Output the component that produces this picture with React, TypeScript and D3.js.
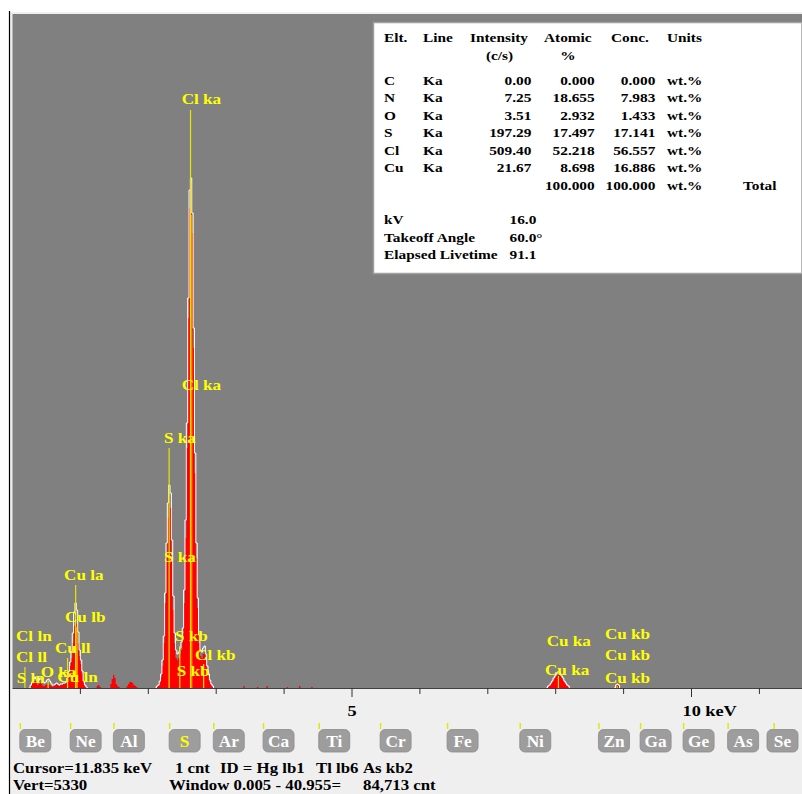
import React from 'react';
import * as d3 from 'd3';

// [keV, counts, reference-outline counts]
const spectrum: [number, number, number][] = [
  [0.0, 0, 0], [0.24, 0, 0], [0.26, 20, 30], [0.28, 40, 60], [0.3, 60, 90], [0.32, 70, 110], [0.34, 50, 90],
  [0.36, 30, 70], [0.38, 40, 80], [0.4, 60, 100], [0.42, 40, 80], [0.44, 20, 60], [0.46, 20, 50], [0.48, 30, 60],
  [0.5, 40, 80], [0.52, 50, 90], [0.54, 30, 70], [0.56, 20, 50], [0.58, 10, 30], [0.6, 20, 30], [0.62, 30, 40],
  [0.64, 40, 50], [0.66, 30, 40], [0.68, 20, 30], [0.7, 30, 40], [0.72, 30, 40], [0.74, 40, 50], [0.76, 40, 50],
  [0.78, 50, 60], [0.8, 80, 100], [0.82, 140, 170], [0.84, 220, 260], [0.86, 300, 360], [0.88, 450, 550],
  [0.9, 620, 760], [0.92, 700, 850], [0.94, 640, 780], [0.96, 450, 560], [0.98, 320, 380], [1.0, 240, 280],
  [1.02, 140, 170], [1.04, 50, 70], [1.06, 20, 30], [1.08, 10, 10], [1.1, 0, 0],
  [1.22, 0, 0], [1.24, 20, 0], [1.26, 30, 0], [1.28, 10, 0], [1.3, 0, 0],
  [1.42, 0, 0], [1.44, 40, 0], [1.46, 90, 0], [1.48, 130, 0], [1.5, 100, 0], [1.52, 40, 0], [1.54, 20, 0],
  [1.56, 10, 0], [1.58, 0, 0],
  [1.66, 0, 0], [1.68, 20, 0], [1.7, 40, 0], [1.72, 60, 0], [1.74, 60, 0], [1.76, 50, 0], [1.78, 30, 0],
  [1.8, 20, 0], [1.82, 10, 0], [1.84, 0, 0],
  [2.1, 0, 0], [2.12, 10, 20], [2.14, 20, 30], [2.16, 50, 70], [2.18, 110, 140], [2.2, 220, 280], [2.22, 450, 520],
  [2.24, 850, 950], [2.26, 1300, 1450], [2.28, 1700, 1850], [2.3, 1920, 2030], [2.32, 1800, 1950],
  [2.34, 1300, 1480], [2.36, 780, 920], [2.38, 450, 550], [2.4, 300, 380], [2.42, 280, 340], [2.44, 300, 360],
  [2.46, 340, 400], [2.48, 380, 460], [2.5, 500, 600], [2.52, 850, 980], [2.54, 1500, 1680], [2.56, 2400, 2650],
  [2.58, 3700, 3900], [2.6, 4800, 4980], [2.62, 5050, 5100], [2.64, 4550, 4750], [2.66, 3400, 3600],
  [2.68, 2150, 2350], [2.7, 1300, 1450], [2.72, 800, 900], [2.74, 450, 530], [2.76, 320, 380], [2.78, 300, 360],
  [2.8, 340, 400], [2.82, 360, 420], [2.84, 280, 340], [2.86, 180, 220], [2.88, 120, 140], [2.9, 60, 80],
  [2.92, 30, 40], [2.94, 10, 20], [2.96, 0, 0],
  [3.4, 20, 0], [3.42, 0, 0], [3.6, 10, 0], [3.62, 0, 0], [3.74, 20, 0], [3.76, 0, 0], [4.04, 10, 0], [4.06, 0, 0],
  [4.22, 20, 0], [4.24, 0, 0], [4.4, 10, 0], [4.42, 0, 0],
  [7.86, 0, 0], [7.88, 10, 20], [7.9, 20, 30], [7.92, 40, 50], [7.94, 60, 70], [7.96, 80, 100], [7.98, 100, 120],
  [8.0, 120, 140], [8.02, 130, 160], [8.04, 130, 160], [8.06, 120, 140], [8.08, 100, 120], [8.1, 80, 100],
  [8.12, 60, 70], [8.14, 40, 50], [8.16, 20, 30], [8.18, 10, 20], [8.2, 0, 0],
  [8.86, 0, 0], [8.88, 20, 30], [8.9, 30, 40], [8.92, 20, 30], [8.94, 0, 0], [11.7, 0, 0],
];

// KLM marker lines: energy (keV), height (counts)
const markerKeV = [2.622, 2.307, 2.464, 2.815, 0.93, 0.95, 0.811, 0.183, 0.525, 8.04, 8.905, 2.64];
const markerHeight = [5780, 2400, 420, 240, 1030, 610, 300, 210, 70, 120, 20, 4730];
const markerIsSecondary = [false, false, false, false, false, false, false, false, false, false, false, true];

// Peak labels: text, marker energy, level (counts)
const labelText = ['Cl ka', 'Cl ka', 'S ka', 'S ka', 'S kb', 'Cl kb', 'S kb', 'Cu la', 'Cu lb', 'Cu ll', 'Cl ln',
  'Cl ll', 'S ln', 'O ka', 'Cu ln', 'Cu ka', 'Cu ka', 'Cu kb', 'Cu kb', 'Cu kb'];
const labelKeV = [2.622, 2.622, 2.307, 2.307, 2.464, 2.815, 2.464, 0.93, 0.95, 0.811, 0.18, 0.183, 0.149, 0.525,
  0.832, 8.04, 8.04, 8.905, 8.905, 8.905];
const labelLevel = [5840, 2980, 2450, 1260, 470, 280, 120, 1080, 660, 350, 470, 260, 50, 110, 60, 420, 130, 490, 280, 50];
const labelDx = [-8.8, -8.8, -5.1, -5.1, -4.8, -8.6, -3.1, -11.6, -12, -12.6, -8.7, -8.9, -5.9, -7.4, -11.7, -11.7,
  -13.4, -12.2, -12.2, -12.2];

const axisTicks = [1, 2, 3, 4, 5, 6, 7, 8, 9, 10, 11];
const majorTicks = [5, 10];

const elements = ['Be', 'Ne', 'Al', 'S', 'Ar', 'Ca', 'Ti', 'Cr', 'Fe', 'Ni', 'Zn', 'Ga', 'Ge', 'As', 'Se'];
const elementKeV = [0.108, 0.849, 1.486, 2.307, 2.957, 3.69, 4.51, 5.414, 6.4, 7.471, 8.63, 9.243, 9.876, 10.532, 11.21];
const activeElement = 'S';

const tableHeader1 = ['Elt.', 'Line', 'Intensity', 'Atomic', 'Conc.', 'Units'];
const tableHeader2 = ['(c/s)', '%'];
const tableRows = [
  ['C', 'Ka', '0.00', '0.000', '0.000', 'wt.%'],
  ['N', 'Ka', '7.25', '18.655', '7.983', 'wt.%'],
  ['O', 'Ka', '3.51', '2.932', '1.433', 'wt.%'],
  ['S', 'Ka', '197.29', '17.497', '17.141', 'wt.%'],
  ['Cl', 'Ka', '509.40', '52.218', '56.557', 'wt.%'],
  ['Cu', 'Ka', '21.67', '8.698', '16.886', 'wt.%'],
];
const totalRow = ['100.000', '100.000', 'wt.%', 'Total'];
const paramRows = [['kV', '16.0'], ['Takeoff Angle', '60.0°'], ['Elapsed Livetime', '91.1']];

const status1 = ['Cursor=11.835 keV', '1 cnt', 'ID = Hg lb1', 'Tl lb6', 'As kb2'];
const status2 = ['Vert=5330', 'Window 0.005 - 40.955=', '84,713 cnt'];

const FONT = '"Liberation Serif", "Times New Roman", serif';

function T(props: { x: number; y: number; size: number; fill?: string; anchor?: string; sx?: number; children: any }) {
  const { x, y, size, fill = '#000', anchor = 'start', sx = 1.18, children } = props;
  return (
    <text transform={`translate(${x},${y}) scale(${sx},1)`} fontFamily={FONT} fontWeight="bold" fontSize={size}
      fill={fill} textAnchor={anchor as any}>{children}</text>
  );
}

export default function App() {
  const W = 802, H = 794;
  const left = 12.5, top = 14, base = 688;
  const pxPerKeV = 67.9;
  const x = d3.scaleLinear().domain([0, (W - left) / pxPerKeV]).range([left, W]);
  const y = d3.scaleLinear().domain([0, (base - top) * 10]).range([base, top]);

  const area = d3.area<[number, number, number]>()
    .x(d => x(d[0])).y0(base).y1(d => y(d[1])).curve(d3.curveStepAfter);
  const outline = d3.line<[number, number, number]>()
    .x(d => x(d[0])).y(d => y(d[2])).curve(d3.curveStepAfter);

  // split the reference outline into runs around non-zero counts
  const segments: [number, number, number][][] = [];
  let cur: [number, number, number][] = [];
  spectrum.forEach((d, i) => {
    const prev = spectrum[i - 1];
    const next = spectrum[i + 1];
    if (prev && prev[2] === 0 && d[2] === 0) {
      if (cur.length > 1) segments.push(cur);
      cur = [];
    }
    const inc = d[2] > 0 || (prev && prev[2] > 0) || (next && next[2] > 0);
    if (inc) cur.push(d);
  });
  if (cur.length > 1) segments.push(cur);

  const colX = { elt: 384, line: 423, intR: 531.3, atR: 594.7, concR: 655.3, units: 667 };
  const rowY0 = 84.5, rowDy = 17.5;

  return (
    <svg width={W} height={H} style={{ position: 'absolute', left: 0, top: 0, display: 'block' }}>
      <rect x={0} y={0} width={W} height={H} fill="#ffffff" />
      <rect x={10} y={12} width={W - 10} height={H - 12} fill="#efefef" />
      <line x1={9.5} y1={11} x2={9.5} y2={H} stroke="#000" strokeWidth={1.2} />
      <rect x={left} y={top} width={W - left} height={base - top} fill="#808080" />

      {/* spectrum */}
      <path d={area(spectrum) || ''} fill="#ff0000" />
      {segments.map((s, i) => (
        <path key={'o' + i} d={outline(s) || ''} fill="none" stroke="#ffffff" strokeWidth={1} />
      ))}

      {/* marker lines */}
      {markerKeV.map((e, i) => (
        <line key={'m' + i} x1={x(e)} x2={x(e)} y1={base} y2={y(markerHeight[i])}
          stroke={markerIsSecondary[i] ? '#ff9a00' : '#e6e600'} strokeWidth={1.2} />
      ))}

      {/* peak labels */}
      {labelText.map((t, i) => (
        <T key={'l' + i} x={x(labelKeV[i]) + labelDx[i]} y={y(labelLevel[i])} size={14.5} fill="#ffff00">{t}</T>
      ))}

      {/* axis */}
      <line x1={left} x2={W} y1={base + 0.5} y2={base + 0.5} stroke="#404040" strokeWidth={1} />
      {axisTicks.map(t => (
        <line key={'t' + t} x1={x(t)} x2={x(t)} y1={base} y2={base + (majorTicks.includes(t) ? 9 : 6)}
          stroke="#303030" strokeWidth={1} />
      ))}
      <T x={x(5)} y={716} size={15.5} anchor="middle">5</T>
      <T x={x(10) - 9} y={716} size={15.5}>10 keV</T>

      {/* element buttons */}
      {elements.map((el, i) => {
        const ex = x(elementKeV[i]);
        const bx = Math.min(ex, W - 35);
        return (
          <g key={'e' + el}>
            <line x1={ex + 0.5} x2={ex + 0.5} y1={723} y2={729} stroke="#e6e600" strokeWidth={1.5} />
            <rect x={bx} y={729.5} width={31} height={22.5} rx={5} fill="#9d9d9d" stroke="#8c8c8c" strokeWidth={0.8} />
            <T x={bx + 15.5} y={746.5} size={16} sx={1.08} anchor="middle" fill={el === activeElement ? '#ffff00' : '#ffffff'}>{el}</T>
          </g>
        );
      })}

      {/* status lines */}
      {[13, 175, 220, 316, 363].map((sxp, i) => (
        <T key={'s1' + i} x={sxp} y={773} size={15} sx={1.12}>{status1[i]}</T>
      ))}
      {[13, 169, 363].map((sxp, i) => (
        <T key={'s2' + i} x={sxp} y={790} size={15} sx={1.12}>{status2[i]}</T>
      ))}

      {/* results table */}
      <rect x={373.5} y={22.5} width={W - 373.5} height={251} fill="#ffffff" stroke="#a0a0a0" strokeWidth={1.5} />
      <T x={colX.elt} y={42} size={13}>{tableHeader1[0]}</T>
      <T x={colX.line} y={42} size={13}>{tableHeader1[1]}</T>
      <T x={470} y={42} size={13}>{tableHeader1[2]}</T>
      <T x={544} y={42} size={13}>{tableHeader1[3]}</T>
      <T x={611} y={42} size={13}>{tableHeader1[4]}</T>
      <T x={colX.units} y={42} size={13}>{tableHeader1[5]}</T>
      <T x={499.5} y={59.5} size={13} anchor="middle">{tableHeader2[0]}</T>
      <T x={568} y={59.5} size={13} anchor="middle">{tableHeader2[1]}</T>
      {tableRows.map((r, i) => {
        const ry = rowY0 + i * rowDy;
        return (
          <g key={'r' + i}>
            <T x={colX.elt} y={ry} size={13}>{r[0]}</T>
            <T x={colX.line} y={ry} size={13}>{r[1]}</T>
            <T x={colX.intR} y={ry} size={13} anchor="end">{r[2]}</T>
            <T x={colX.atR} y={ry} size={13} anchor="end">{r[3]}</T>
            <T x={colX.concR} y={ry} size={13} anchor="end">{r[4]}</T>
            <T x={colX.units} y={ry} size={13}>{r[5]}</T>
          </g>
        );
      })}
      <T x={colX.atR} y={rowY0 + 6 * rowDy} size={13} anchor="end">{totalRow[0]}</T>
      <T x={colX.concR} y={rowY0 + 6 * rowDy} size={13} anchor="end">{totalRow[1]}</T>
      <T x={colX.units} y={rowY0 + 6 * rowDy} size={13}>{totalRow[2]}</T>
      <T x={743} y={rowY0 + 6 * rowDy} size={13}>{totalRow[3]}</T>
      {paramRows.map((p, i) => (
        <g key={'p' + i}>
          <T x={colX.elt} y={224 + i * 17.5} size={13}>{p[0]}</T>
          <T x={509.5} y={224 + i * 17.5} size={13}>{p[1]}</T>
        </g>
      ))}
    </svg>
  );
}
